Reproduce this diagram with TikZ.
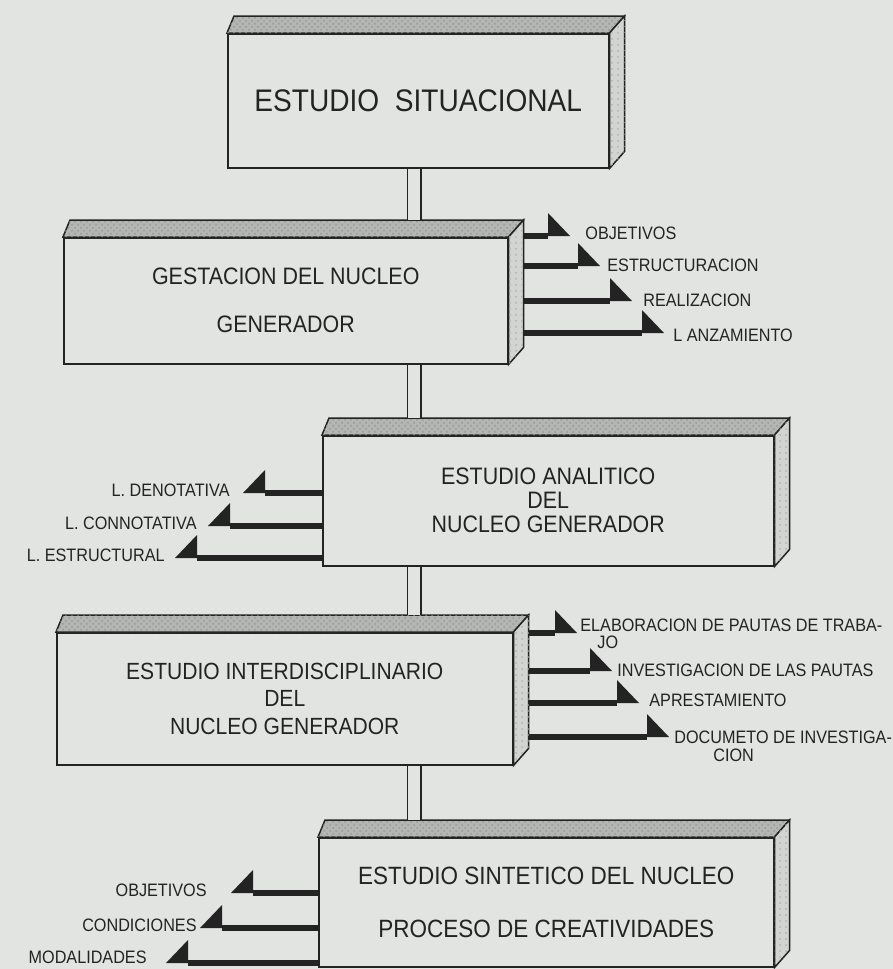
\documentclass[tikz,border=0pt]{standalone}
\usepackage{fontspec}
\usepackage{tikz}
\usetikzlibrary{arrows.meta}
\usetikzlibrary{calc}
\usetikzlibrary{patterns}

\newfontfamily\lettering[FakeStretch=0.9]{Liberation Sans}
\definecolor{paper}{RGB}{225,228,224}
\definecolor{ink}{RGB}{35,35,35}

\tikzset{
  slab/.style={draw=ink, line width=0.75pt, fill=paper, anchor=north west, inner sep=0pt, align=center, text=ink},
  topface/.style={draw=ink, line width=0.75pt, fill=paper!80!black, postaction={pattern=crosshatch dots, pattern color=black!40}},
  sideface/.style={draw=ink, line width=0.75pt, fill=paper!93!black, postaction={pattern=dots, pattern color=black!30}},
  link/.style={draw=ink, line width=0.75pt, double=paper, double distance=6pt},
  branch/.style={draw=ink, line width=2.6pt, -{Triangle[harpoon, length=11pt, width=23pt, line width=0pt]}},
  branchL/.style={draw=ink, line width=2.6pt, -{Triangle[harpoon, swap, length=11pt, width=23pt, line width=0pt]}},
  lbl/.style={font=\lettering\fontsize{9}{9}\selectfont, text=ink, inner sep=0pt}
}

% top and side of a box
\newcommand\slabfaces[1]{%
  \path[topface] (#1.north west) -- ++(7,-17) coordinate (#1-back)
    -- ($(#1.north east)+(15,-17)$) -- (#1.north east) -- cycle;
  \path[sideface] (#1.north east) -- ++(15,-17) coordinate (#1-side)
    -- ($(#1.south east)+(15,-17)$) -- (#1.south east) -- cycle;
}

\begin{document}
\begin{tikzpicture}[x=0.5pt,y=-0.5pt]
\fill[paper] (0,0) rectangle (893,969);
\useasboundingbox (0,0) rectangle (893,969);
\coordinate (spine) at (414,0);

% boxes
\node[slab, font=\lettering\fontsize{15.6}{18}\selectfont, minimum width=190.5pt, minimum height=67pt] (b1) at (227,33) {ESTUDIO\ \ SITUACIONAL};
\slabfaces{b1}
\node[slab, font=\lettering\fontsize{11.9}{24}\selectfont, minimum width=222pt, minimum height=63pt] (b2) at (63,237) {GESTACION DEL NUCLEO\\GENERADOR};
\slabfaces{b2}
\node[slab, font=\lettering\fontsize{11.9}{12}\selectfont, minimum width=225.5pt, minimum height=65pt] (b3) at (322,435) {ESTUDIO ANALITICO\\DEL\\NUCLEO GENERADOR};
\slabfaces{b3}
\node[slab, font=\lettering\fontsize{11.7}{13.75}\selectfont, minimum width=228pt, minimum height=66pt] (b4) at (56,632) {ESTUDIO INTERDISCIPLINARIO\\DEL\\NUCLEO GENERADOR};
\slabfaces{b4}
\node[slab, font=\lettering\fontsize{12.5}{26.5}\selectfont, minimum width=227.5pt, minimum height=64.5pt] (b5) at (318,837) {ESTUDIO SINTETICO DEL NUCLEO\\PROCESO DE CREATIVIDADES};
\slabfaces{b5}

% double links
\draw[link] (b1.south -| spine) -- (b2-back -| spine);
\draw[link] (b2.south -| spine) -- (b3-back -| spine);
\draw[link] (b3.south -| spine) -- (b4-back -| spine);
\draw[link] (b4.south -| spine) -- (b5-back -| spine);

% gestacion
\coordinate (t21) at (570,236);
\coordinate (t22) at (600,266);
\coordinate (t23) at (632,301);
\coordinate (t24) at (664,333);
\draw[branch] (b2-side |- t21) -- (t21);
\draw[branch] (b2-side |- t22) -- (t22);
\draw[branch] (b2-side |- t23) -- (t23);
\draw[branch] (b2-side |- t24) -- (t24);
\node[lbl, anchor=west] (l21) at (585,233) {OBJETIVOS};
\node[lbl, anchor=west] (l22) at (607,265) {ESTRUCTURACION};
\node[lbl, anchor=west] (l23) at (643,300) {REALIZACION};
\node[lbl, anchor=west] (l24) at (673,335) {L ANZAMIENTO};

% analitico
\coordinate (t31) at (243,493);
\coordinate (t32) at (208,526);
\coordinate (t33) at (175,558);
\draw[branchL] (b3.west |- t31) -- (t31);
\draw[branchL] (b3.west |- t32) -- (t32);
\draw[branchL] (b3.west |- t33) -- (t33);
\node[lbl, anchor=east] (l31) at (230,490) {L. DENOTATIVA};
\node[lbl, anchor=east] (l32) at (197,523) {L. CONNOTATIVA};
\node[lbl, anchor=east] (l33) at (165,555) {L. ESTRUCTURAL};

% interdisciplinario
\coordinate (t41) at (577,633);
\coordinate (t42) at (612,671);
\coordinate (t43) at (639,703);
\coordinate (t44) at (669,737);
\draw[branch] (b4-side |- t41) -- (t41);
\draw[branch] (b4-side |- t42) -- (t42);
\draw[branch] (b4-side |- t43) -- (t43);
\draw[branch] (b4-side |- t44) -- (t44);
\node[lbl, anchor=west] (l41) at (580,625) {ELABORACION DE PAUTAS DE TRABA-};
\node[lbl, anchor=west] (l41b) at (597,642) {JO};
\node[lbl, anchor=west] (l42) at (617,670) {INVESTIGACION DE LAS PAUTAS};
\node[lbl, anchor=west] (l43) at (649,700) {APRESTAMIENTO};
\node[lbl, anchor=west] (l44) at (674,737) {DOCUMETO DE INVESTIGA-};
\node[lbl, anchor=west] (l44b) at (713,755) {CION};

% sintetico
\coordinate (t51) at (231,893);
\coordinate (t52) at (200,928);
\coordinate (t53) at (166,963);
\draw[branchL] (b5.west |- t51) -- (t51);
\draw[branchL] (b5.west |- t52) -- (t52);
\draw[branchL] (b5.west |- t53) -- (t53);
\node[lbl, anchor=east] (l51) at (207,890) {OBJETIVOS};
\node[lbl, anchor=east] (l52) at (197,925) {CONDICIONES};
\node[lbl, anchor=east] (l53) at (147,957) {MODALIDADES};
\end{tikzpicture}
\end{document}
